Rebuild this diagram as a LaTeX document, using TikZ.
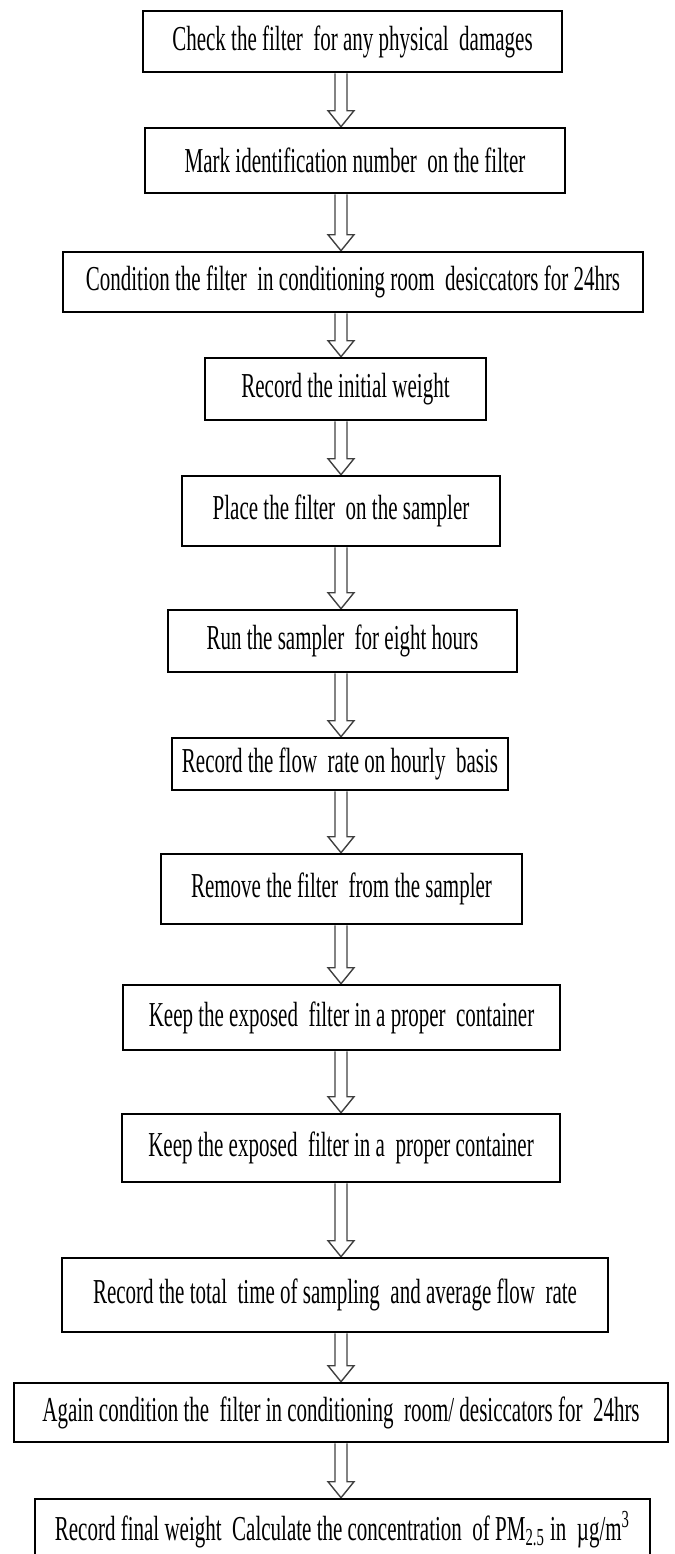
\documentclass[tikz,border=0pt]{standalone}
\usepackage{fontspec}
\setmainfont{Liberation Serif}[FakeStretch=0.6]
\usepackage{tikz}
\usetikzlibrary{calc}
\pgfdeclarelayer{edgelayer}
\pgfdeclarelayer{nodelayer}
\pgfsetlayers{edgelayer,nodelayer,main}
\tikzstyle{stepbox}=[draw=black, fill=white, line width=1.3pt, inner sep=0pt, font=\fontsize{17.5}{20}\selectfont]
\tikzstyle{flowedge}=[draw=black!75, line width=0.7pt, line join=miter,
	to path={let \p1=(\tikztostart), \p2=(\tikztotarget) in
		(\x1-3pt,\y1) -- (\x1-3pt,\y2+8pt) -- (\x1-6.5pt,\y2+8pt) -- (\x2,\y2)
		-- (\x1+6.5pt,\y2+8pt) -- (\x1+3pt,\y2+8pt) -- (\x1+3pt,\y1)}]

\begin{document}
\begin{tikzpicture}[x=0.5pt, y=-0.5pt]
	\useasboundingbox (0, 0) rectangle (675, 1554);
	\coordinate (axis) at (341, 0);
	\begin{pgfonlayer}{nodelayer}
		\node [style=stepbox, minimum width=209.5pt, minimum height=30.5pt] (1) at (352.5, 41.5) {Check the filter\ \ for any physical\ \ damages};
		\node [style=stepbox, minimum width=210pt, minimum height=32.5pt] (2) at (355, 160.5) {Mark identification number\ \ on the filter};
		\node [style=stepbox, minimum width=290pt, minimum height=30pt] (3) at (353, 282) {Condition the filter\ \ in conditioning room\ \ desiccators for 24hrs};
		\node [style=stepbox, minimum width=140.5pt, minimum height=31pt] (4) at (345.5, 389) {Record the initial weight};
		\node [style=stepbox, minimum width=159pt, minimum height=35pt] (5) at (341, 511) {Place the filter\ \ on the sampler};
		\node [style=stepbox, minimum width=174.5pt, minimum height=31pt] (6) at (342.5, 641) {Run the sampler\ \ for eight hours};
		\node [style=stepbox, minimum width=168pt, minimum height=26pt] (7) at (340, 764) {Record the flow\ \ rate on hourly\ \ basis};
		\node [style=stepbox, minimum width=180.5pt, minimum height=35pt] (8) at (341.5, 889) {Remove the filter\ \ from the sampler};
		\node [style=stepbox, minimum width=218.5pt, minimum height=32.5pt] (9) at (341.5, 1017.5) {Keep the exposed\ \ filter in a proper\ \ container};
		\node [style=stepbox, minimum width=219pt, minimum height=34pt] (10) at (341, 1148) {Keep the exposed\ \ filter in a\ \ proper container};
		\node [style=stepbox, minimum width=273pt, minimum height=37pt] (11) at (335, 1295) {Record the total\ \ time of sampling\ \ and average flow\ \ rate};
		\node [style=stepbox, minimum width=327pt, minimum height=29.5pt] (12) at (341, 1412.5) {Again condition the\ \ filter in conditioning\ \ room/ desiccators for\ \ 24hrs};
		\node [style=stepbox, minimum width=307.5pt, minimum height=30.5pt] (13) at (342.5, 1529.5) {Record final weight\ \ Calculate the concentration\ \ of PM\textsubscript{2.5} in\ \ µg/m\textsuperscript{3}};
	\end{pgfonlayer}
	\begin{pgfonlayer}{edgelayer}
		\draw [style=flowedge] (1.south -| axis) to (2.north -| axis);
		\draw [style=flowedge] (2.south -| axis) to (3.north -| axis);
		\draw [style=flowedge] (3.south -| axis) to (4.north -| axis);
		\draw [style=flowedge] (4.south -| axis) to (5.north -| axis);
		\draw [style=flowedge] (5.south -| axis) to (6.north -| axis);
		\draw [style=flowedge] (6.south -| axis) to (7.north -| axis);
		\draw [style=flowedge] (7.south -| axis) to (8.north -| axis);
		\draw [style=flowedge] (8.south -| axis) to (9.north -| axis);
		\draw [style=flowedge] (9.south -| axis) to (10.north -| axis);
		\draw [style=flowedge] (10.south -| axis) to (11.north -| axis);
		\draw [style=flowedge] (11.south -| axis) to (12.north -| axis);
		\draw [style=flowedge] (12.south -| axis) to (13.north -| axis);
	\end{pgfonlayer}
\end{tikzpicture}
\end{document}
